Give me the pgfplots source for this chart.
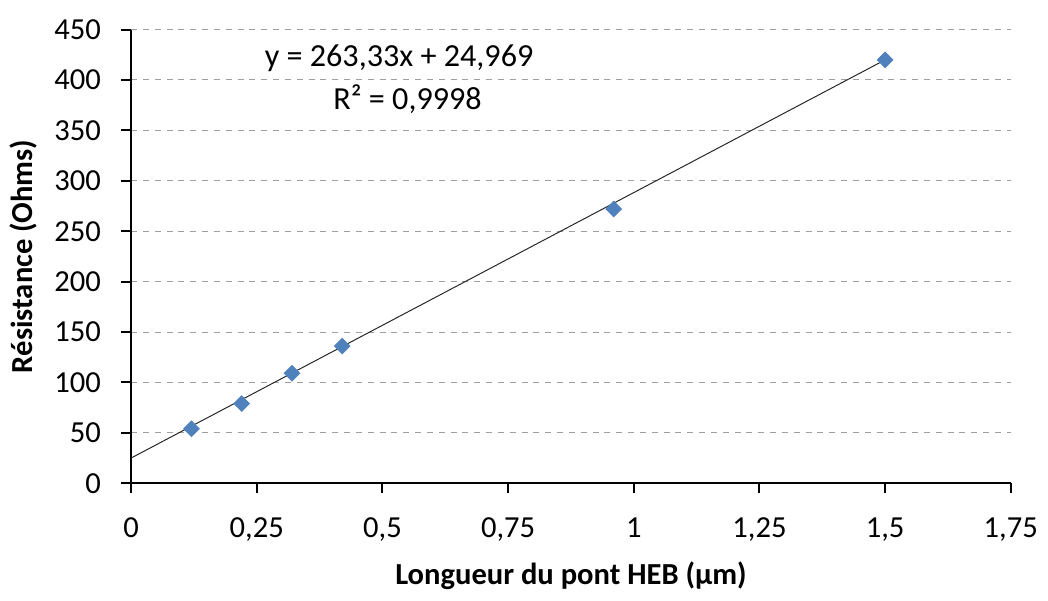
\documentclass[border=0pt]{standalone}
\usepackage{pgfplots}
\pgfplotsset{compat=1.18}
\usepackage{fontspec}
\setmainfont{Carlito}
\definecolor{exblue}{HTML}{4F81BD}
\begin{document}
\fontsize{15.5}{18}\selectfont
\begin{tikzpicture}
\begin{axis}[
    width=446pt, height=230pt, scale only axis,
    xmin=0, xmax=1.75,
    ymin=0, ymax=450,
    xtick={0,0.25,0.5,0.75,1,1.25,1.5,1.75},
    ytick={0,50,100,150,200,250,300,350,400,450},
    axis lines*=left,
    tick align=outside,
    major tick length=5pt,
    axis line style={line width=1pt, black},
    tick style={line width=1pt, black},
    ymajorgrids=true,
    grid style={dashed, gray!75, line width=0.5pt},
    /pgf/number format/.cd, use comma, fixed, precision=2, assume math mode=true,
    /pgfplots/.cd,
    tick label style={font=\fontsize{15.5}{18}\selectfont},
    xticklabel style={yshift=-7pt},
    yticklabel style={xshift=-5pt},
    xlabel={\textbf{Longueur du pont HEB (µm)}},
    ylabel={\textbf{Résistance (Ohms)}},
    xlabel style={yshift=0pt},
    ylabel style={yshift=-2pt},
]
% trend line
\addplot[black!85, line width=0.5pt] coordinates {(0,24.969) (1.5,419.964)};
% measurements
\addplot[only marks, mark=square*, mark size=2.8pt,
    mark options={rotate=45, fill=exblue, draw=exblue}]
    coordinates {
    (0.12,54) (0.22,79) (0.32,109) (0.42,136) (0.96,272) (1.5,420)
    };
\node[anchor=center, font=\fontsize{16.3}{19}\selectfont] at (axis cs:0.533,422) {y = 263,33x + 24,969};
\node[anchor=center, font=\fontsize{16.3}{19}\selectfont] at (axis cs:0.55,381) {R² = 0,9998};
\end{axis}
\path ([yshift=15pt]current axis.north);
\end{tikzpicture}
\end{document}
